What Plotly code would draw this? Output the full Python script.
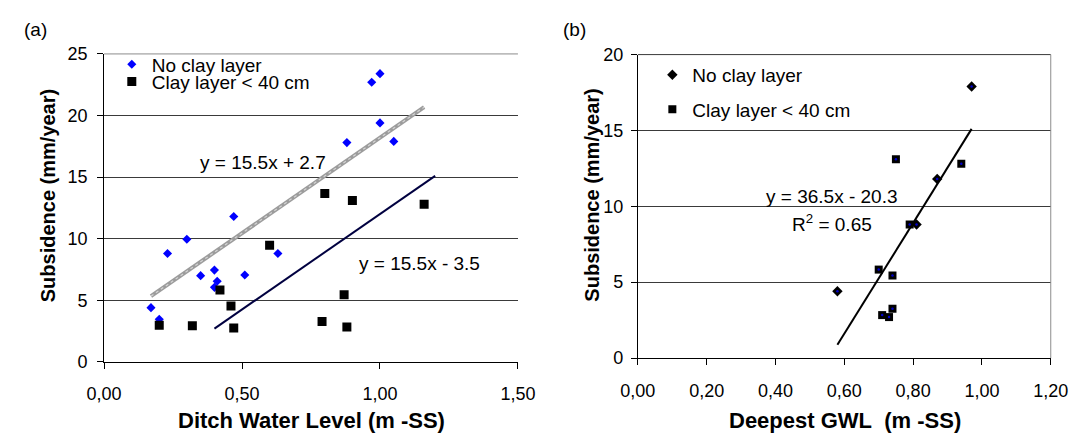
import plotly.graph_objects as go

# ---------------- data ----------------
# Panel (a): subsidence vs ditch water level
a_noclay_x = [0.17, 0.20, 0.23, 0.30, 0.35, 0.40, 0.41, 0.40, 0.47, 0.51, 0.63, 1.00, 0.97, 1.00, 0.88, 1.05]
a_noclay_y = [4.4, 3.45, 8.8, 9.95, 7.0, 7.45, 6.55, 6.05, 11.8, 7.05, 8.8, 23.4, 22.7, 19.4, 17.8, 17.9]
a_clay_x = [0.20, 0.32, 0.42, 0.46, 0.47, 0.60, 0.79, 0.87, 0.88, 0.80, 0.90, 1.16]
a_clay_y = [2.98, 2.93, 5.83, 4.53, 2.75, 9.47, 3.27, 5.44, 2.83, 13.66, 13.1, 12.8]

# trend lines of panel (a): slope, intercept, x-extent
a_fit1_slope, a_fit1_icpt, a_fit1_x = 15.5, 2.7, [0.17, 1.16]
a_fit2_slope, a_fit2_icpt, a_fit2_x = 15.5, -3.5, [0.40, 1.20]

# Panel (b): subsidence vs deepest GWL
b_noclay_x = [0.97, 0.87, 0.81, 0.58]
b_noclay_y = [17.9, 11.8, 8.8, 4.4]
b_clay_x = [0.75, 0.94, 0.79, 0.70, 0.74, 0.71, 0.73, 0.74]
b_clay_y = [13.1, 12.8, 8.8, 5.83, 5.44, 2.83, 2.7, 3.25]

b_fit_slope, b_fit_icpt, b_fit_x = 36.5, -20.3, [0.58, 0.97]

a_xticks = [0, 0.5, 1.0, 1.5]
b_xticks = [0, 0.2, 0.4, 0.6, 0.8, 1.0, 1.2]

legend_labels = ["No clay layer", "Clay layer < 40 cm"]

# ---------------- figure ----------------
W, H = 1091, 443
FONT = "Arial, Liberation Sans, sans-serif"

def px(x):
    return x / W

def py(y):
    return 1 - y / H

fig = go.Figure()

# panel (a)
fit1_y = [a_fit1_slope * v + a_fit1_icpt for v in a_fit1_x]
fig.add_trace(go.Scatter(
    x=a_fit1_x, y=fit1_y, mode="lines", line=dict(color="#9c9c9c", width=4),
    showlegend=False, xaxis="x", yaxis="y", hoverinfo="skip"))
fig.add_trace(go.Scatter(
    x=a_fit1_x, y=fit1_y, mode="lines", line=dict(color="#d4d4d4", width=1.2, dash="dot"),
    showlegend=False, xaxis="x", yaxis="y", hoverinfo="skip"))
fig.add_trace(go.Scatter(
    x=a_fit2_x, y=[a_fit2_slope * v + a_fit2_icpt for v in a_fit2_x],
    mode="lines", line=dict(color="#000040", width=2),
    showlegend=False, xaxis="x", yaxis="y", hoverinfo="skip"))
fig.add_trace(go.Scatter(
    x=a_noclay_x, y=a_noclay_y, mode="markers", name=legend_labels[0],
    marker=dict(symbol="diamond", size=7, color="#0000ff"),
    xaxis="x", yaxis="y", legend="legend"))
fig.add_trace(go.Scatter(
    x=a_clay_x, y=a_clay_y, mode="markers", name=legend_labels[1],
    marker=dict(symbol="square", size=9, color="#000000"),
    xaxis="x", yaxis="y", legend="legend2"))

# panel (b)
fig.add_trace(go.Scatter(
    x=b_fit_x, y=[b_fit_slope * v + b_fit_icpt for v in b_fit_x],
    mode="lines", line=dict(color="#000000", width=2),
    showlegend=False, xaxis="x2", yaxis="y2", hoverinfo="skip"))
fig.add_trace(go.Scatter(
    x=b_noclay_x, y=b_noclay_y, mode="markers", name=legend_labels[0],
    marker=dict(symbol="diamond", size=8, color="#000000"),
    xaxis="x2", yaxis="y2", legend="legend3"))
fig.add_trace(go.Scatter(
    x=b_clay_x, y=b_clay_y, mode="markers", name=legend_labels[1],
    marker=dict(symbol="square", size=8, color="#000000"),
    xaxis="x2", yaxis="y2", legend="legend4"))
# small blue centre dots of panel (b) markers
fig.add_trace(go.Scatter(
    x=b_noclay_x + b_clay_x, y=b_noclay_y + b_clay_y, mode="markers",
    marker=dict(symbol="circle", size=2.5, color="#0000cc"),
    showlegend=False, xaxis="x2", yaxis="y2", hoverinfo="skip"))

axis_common = dict(showline=True, linecolor="black", linewidth=1, ticks="outside",
                   ticklen=6, tickcolor="black", tickwidth=1, zeroline=False,
                   tickfont=dict(size=18, color="black", family=FONT))

leg_common = dict(font=dict(size=19, color="black", family=FONT), bgcolor="rgba(0,0,0,0)",
                  borderwidth=0, xanchor="left", yanchor="middle", itemwidth=30)

fig.update_layout(
    width=W, height=H,
    margin=dict(l=0, r=0, t=0, b=0),
    paper_bgcolor="white", plot_bgcolor="white",
    font=dict(family=FONT, size=18, color="black"),
    separators=",.",
    xaxis=dict(domain=[px(89), px(517)], range=[0, 1.5], tickvals=a_xticks,
               tickformat=".2f", showgrid=False, anchor="y", ticklabelstandoff=10,
               **axis_common),
    yaxis=dict(domain=[py(368.5), py(46)], range=[0, 25], dtick=5, ticklabelstandoff=6,
               showgrid=True, gridcolor="#3a3a3a", gridwidth=1, anchor="x", **axis_common),
    xaxis2=dict(domain=[px(641), px(1068)], range=[0, 1.2], tickvals=b_xticks,
                tickformat=".2f", showgrid=False, anchor="y2", ticklabelstandoff=10,
                **axis_common),
    yaxis2=dict(domain=[py(364.5), py(46.7)], range=[0, 20], dtick=5, ticklabelstandoff=4,
                showgrid=True, gridcolor="#3a3a3a", gridwidth=1, anchor="x2", **axis_common),
    legend=dict(x=px(129 - 32), y=py(64 - 7), **leg_common),
    legend2=dict(x=px(129 - 32), y=py(82 - 7), **leg_common),
    legend3=dict(x=px(682 - 26), y=py(75 - 7), **leg_common),
    legend4=dict(x=px(682 - 26), y=py(110 - 6), **leg_common),
)

# top frame lines of both panels and right border of panel (b)
fig.add_shape(type="line", xref="x domain", yref="y domain", x0=0, x1=1, y0=1, y1=1,
              line=dict(color="#8c8c8c", width=1))
fig.add_shape(type="line", xref="x2 domain", yref="y2 domain", x0=0, x1=1, y0=1, y1=1,
              line=dict(color="#3a3a3a", width=1))
fig.add_shape(type="line", xref="x2 domain", yref="y2 domain", x0=1, x1=1, y0=0, y1=1,
              line=dict(color="#8c8c8c", width=1))

C = dict(xanchor="center", yanchor="middle", showarrow=False)
ann = []
# panel labels
ann.append(dict(text="(a)", x=px(18), y=py(20), xref="paper", yref="paper",
                font=dict(size=19), **C))
ann.append(dict(text="(b)", x=px(576), y=py(20), xref="paper", yref="paper",
                font=dict(size=19), **C))
# axis titles
ann.append(dict(text="<b>Ditch Water Level (m -SS)</b>", x=px(303), y=py(430),
                xref="paper", yref="paper", font=dict(size=22), **C))
ann.append(dict(text="<b>Deepest GWL\u00a0 (m -SS)</b>", x=px(855), y=py(430),
                xref="paper", yref="paper", font=dict(size=22), **C))
ann.append(dict(text="<b>Subsidence (mm/year)</b>", x=px(31), y=py(194), textangle=-90,
                xref="paper", yref="paper", font=dict(size=20), **C))
ann.append(dict(text="<b>Subsidence (mm/year)</b>", x=px(594), y=py(194), textangle=-90,
                xref="paper", yref="paper", font=dict(size=20), **C))
# equations
ann.append(dict(text="y = 15.5x + 2.7", x=0.575, y=16.2, xref="x", yref="y",
                font=dict(size=19), **C))
ann.append(dict(text="y = 15.5x - 3.5", x=1.144, y=8.0, xref="x", yref="y",
                font=dict(size=19), **C))
ann.append(dict(text="y = 36.5x - 20.3", x=0.564, y=10.67, xref="x2", yref="y2",
                font=dict(size=19), **C))
ann.append(dict(text="R<sup>2</sup> = 0.65", x=0.564, y=8.92, xref="x2", yref="y2",
                font=dict(size=19), **C))
fig.update_layout(annotations=ann)

fig.write_html("out.html", config={"displayModeBar": False},
               post_script="document.body.style.margin='0';")
